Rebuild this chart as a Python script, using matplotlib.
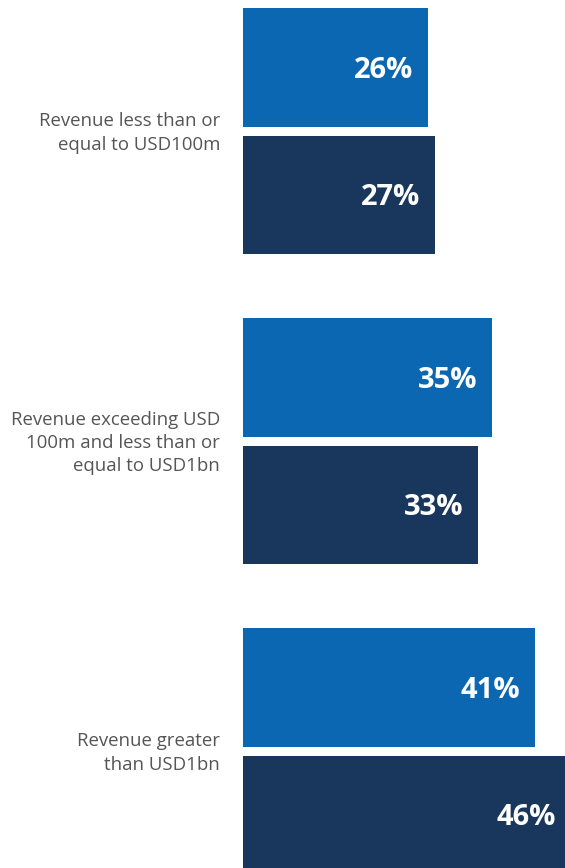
import matplotlib
matplotlib.use("Agg")
import matplotlib.pyplot as plt
import numpy as np

# données
categories = [
    "Revenue less than or\nequal to USD100m",
    "Revenue exceeding USD\n100m and less than or\nequal to USD1bn",
    "Revenue greater\nthan USD1bn",
]
serie_claire = [26, 35, 41]
serie_foncee = [27, 33, 46]

bleu_clair = "#0b67b2"
bleu_fonce = "#19375c"
gris_texte = "#555555"

plt.rcParams["font.family"] = ["Open Sans", "DejaVu Sans"]

fig = plt.figure(figsize=(5.65, 8.68), dpi=100)
ax = fig.add_axes([243 / 565, 0, 1 - 243 / 565, 1])

y = np.arange(len(categories))
hauteur = 0.381
decalage = 0.205

ax.barh(y - decalage, serie_claire, height=hauteur, color=bleu_clair)
ax.barh(y + decalage, serie_foncee, height=hauteur, color=bleu_fonce)

ax.set_xlim(0, 45.2)
ax.set_ylim(2.377, -0.4226)

# étiquettes de valeurs dans les barres
for yy, v in zip(y - decalage, serie_claire):
    ax.annotate(f"{v}%", (v, yy), xytext=(-15, -3), textcoords="offset pixels",
                ha="right", va="center", color="white", fontsize=21,
                fontweight="bold", annotation_clip=False)
for yy, v in zip(y + decalage, serie_foncee):
    ax.annotate(f"{v}%", (v, yy), xytext=(-15, -3), textcoords="offset pixels",
                ha="right", va="center", color="white", fontsize=21,
                fontweight="bold", annotation_clip=False)

# étiquettes de catégories à gauche
for yy, cat in zip(y, categories):
    ax.annotate(cat, (0, yy), xytext=(-23, -2), textcoords="offset pixels",
                ha="right", va="center", color=gris_texte, fontsize=13.4,
                linespacing=1.38, annotation_clip=False)

ax.axis("off")

plt.savefig("out.png", dpi=100)
